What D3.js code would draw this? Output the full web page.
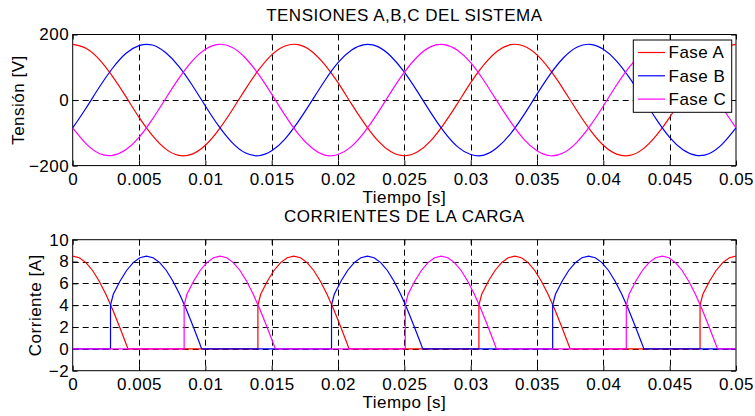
<!DOCTYPE html>
<html>
<head>
<meta charset="utf-8">
<script src="https://cdn.jsdelivr.net/npm/d3@7"></script>
<style>
body{margin:0;background:#fff;}
svg{display:block;font-family:"Liberation Sans",Arial,sans-serif;letter-spacing:0.5px;}
</style>
</head>
<body>
<div id="chart"></div>
<script>
// tiempo de muestreo de las tensiones [s]
const tiempo = [0,0.001,0.002,0.003,0.004,0.005,0.006,0.007,0.008,0.009,
  0.010,0.011,0.012,0.013,0.014,0.015,0.016,0.017,0.018,0.019,
  0.020,0.021,0.022,0.023,0.024,0.025,0.026,0.027,0.028,0.029,
  0.030,0.031,0.032,0.033,0.034,0.035,0.036,0.037,0.038,0.039,
  0.040,0.041,0.042,0.043,0.044,0.045,0.046,0.047,0.048,0.049,0.050];

// tensiones [V]
const tensionA = [170,158,124,72,11,-53,-108,-149,-169,-165,-138,-91,-32,32,91,138,165,169,149,108,53,-11,-72,-124,-158,
  -170,-158,-124,-72,-11,53,108,149,169,165,138,91,32,-32,-91,-138,-165,-169,-149,-108,-53,11,72,124,158,170];
const tensionB = [-85,-25,39,97,142,166,168,145,103,46,-18,-79,-129,-161,-170,-155,-119,-66,-4,59,114,152,169,163,133,
  85,25,-39,-97,-142,-166,-168,-145,-103,-46,18,79,129,161,170,155,119,66,4,-59,-114,-152,-169,-163,-133,-85];
const tensionC = [-85,-133,-163,-169,-152,-114,-59,4,66,119,155,170,161,129,79,18,-46,-103,-145,-168,-166,-142,-97,-39,25,
  85,133,163,169,152,114,59,-4,-66,-119,-155,-170,-161,-129,-79,-18,46,103,145,168,166,142,97,39,-25,-85];

// corrientes de la carga [t, A]
const corrienteA = [[0,8.5],[0.0005,8.35],[0.001,7.9],[0.0015,7.18],[0.002,6.2],[0.0025,5.0],[0.003,3.62],[0.0035,2.11],[0.004,0.53],[0.00417,0],
  [0.01396,0],[0.01396,4.0],[0.01417,5.0],[0.01467,6.2],[0.01517,7.18],[0.01567,7.9],[0.01617,8.35],[0.01667,8.5],[0.01717,8.35],[0.01767,7.9],
  [0.01817,7.18],[0.01867,6.2],[0.01917,5.0],[0.01967,3.62],[0.02017,2.11],[0.02067,0.53],[0.02083,0],
  [0.03062,0],[0.03062,4.0],[0.03083,5.0],[0.03133,6.2],[0.03183,7.18],[0.03233,7.9],[0.03283,8.35],[0.03333,8.5],[0.03383,8.35],[0.03433,7.9],
  [0.03483,7.18],[0.03533,6.2],[0.03583,5.0],[0.03633,3.62],[0.03683,2.11],[0.03733,0.53],[0.0375,0],
  [0.04729,0],[0.04729,4.0],[0.0475,5.0],[0.048,6.2],[0.0485,7.18],[0.049,7.9],[0.0495,8.35],[0.05,8.5]];
const corrienteB = [[0,0],[0.00285,0],[0.00285,4.0],[0.00306,5.0],[0.00356,6.2],[0.00406,7.18],[0.00456,7.9],[0.00506,8.35],[0.00556,8.5],[0.00606,8.35],
  [0.00656,7.9],[0.00706,7.18],[0.00756,6.2],[0.00806,5.0],[0.00856,3.62],[0.00906,2.11],[0.00956,0.53],[0.00972,0],
  [0.01951,0],[0.01951,4.0],[0.01972,5.0],[0.02022,6.2],[0.02072,7.18],[0.02122,7.9],[0.02172,8.35],[0.02222,8.5],[0.02272,8.35],[0.02322,7.9],
  [0.02372,7.18],[0.02422,6.2],[0.02472,5.0],[0.02522,3.62],[0.02572,2.11],[0.02622,0.53],[0.02639,0],
  [0.03618,0],[0.03618,4.0],[0.03639,5.0],[0.03689,6.2],[0.03739,7.18],[0.03789,7.9],[0.03839,8.35],[0.03889,8.5],[0.03939,8.35],[0.03989,7.9],
  [0.04039,7.18],[0.04089,6.2],[0.04139,5.0],[0.04189,3.62],[0.04239,2.11],[0.04289,0.53],[0.04306,0],[0.05,0]];
const corrienteC = [[0,0],[0.0084,0],[0.0084,4.0],[0.00861,5.0],[0.00911,6.2],[0.00961,7.18],[0.01011,7.9],[0.01061,8.35],[0.01111,8.5],[0.01161,8.35],
  [0.01211,7.9],[0.01261,7.18],[0.01311,6.2],[0.01361,5.0],[0.01411,3.62],[0.01461,2.11],[0.01511,0.53],[0.01528,0],
  [0.02507,0],[0.02507,4.0],[0.02528,5.0],[0.02578,6.2],[0.02628,7.18],[0.02678,7.9],[0.02728,8.35],[0.02778,8.5],[0.02828,8.35],[0.02878,7.9],
  [0.02928,7.18],[0.02978,6.2],[0.03028,5.0],[0.03078,3.62],[0.03128,2.11],[0.03178,0.53],[0.03194,0],
  [0.04173,0],[0.04173,4.0],[0.04194,5.0],[0.04244,6.2],[0.04294,7.18],[0.04344,7.9],[0.04394,8.35],[0.04444,8.5],[0.04494,8.35],[0.04544,7.9],
  [0.04594,7.18],[0.04644,6.2],[0.04694,5.0],[0.04744,3.62],[0.04794,2.11],[0.04844,0.53],[0.04861,0],[0.05,0]];

const fases = ["Fase A","Fase B","Fase C"];
const colores = ["#ff0000","#0000ff","#ff00ff"];
const xTicks = [0,0.005,0.01,0.015,0.02,0.025,0.03,0.035,0.04,0.045,0.05];
const xTickLabels = ["0","0.005","0.01","0.015","0.02","0.025","0.03","0.035","0.04","0.045","0.05"];
const vTicks = [-200,0,200];
const iTicks = [-2,0,2,4,6,8,10];

var width = 755, height = 416;
var left = 72.7, right = 736;
var fontSize = 17;

const svg = d3.select("#chart").append("svg")
	.attr("width", width)
	.attr("height", height);

const x = d3.scaleLinear().domain([0, 0.05]).range([left, right]);

function drawPanel(top, bottom, yDomain, yTicks, titulo, yLabel, yLabelX, titleY){
	const y = d3.scaleLinear().domain(yDomain).range([bottom, top]);
	const g = svg.append("g");

	// grid
	g.append("g").selectAll("line")
	.data(xTicks.slice(1, -1))
	.enter().append("line")
	.attr("x1", d => Math.round(x(d)) + 0.5).attr("x2", d => Math.round(x(d)) + 0.5)
	.attr("y1", top).attr("y2", bottom)
	.attr("stroke", "#000").attr("stroke-width", 1)
	.attr("stroke-dasharray", "6,4");
	g.append("g").selectAll("line")
	.data(yTicks.slice(1, -1))
	.enter().append("line")
	.attr("y1", d => Math.round(y(d)) + 0.5).attr("y2", d => Math.round(y(d)) + 0.5)
	.attr("x1", left).attr("x2", right)
	.attr("stroke", "#000").attr("stroke-width", 1)
	.attr("stroke-dasharray", "6,4");

	// ejes
	g.append("g")
	.attr("transform", "translate(0," + bottom + ")")
	.call(d3.axisBottom(x).tickValues(xTicks).tickFormat((d, i) => xTickLabels[i]).tickSize(-5).tickPadding(7.5));
	g.append("g")
	.attr("transform", "translate(" + left + ",0)")
	.call(d3.axisLeft(y).tickValues(yTicks).tickSize(-5).tickPadding(3.5));
	g.append("g")
	.attr("transform", "translate(0," + top + ")")
	.call(d3.axisTop(x).tickValues(xTicks).tickFormat("").tickSize(-5));
	g.append("g")
	.attr("transform", "translate(" + right + ",0)")
	.call(d3.axisRight(y).tickValues(yTicks).tickFormat("").tickSize(-5));
	g.selectAll(".domain").remove();
	g.selectAll(".tick line").attr("stroke", "#000");
	g.selectAll(".tick text").attr("font-size", fontSize).attr("font-family", null).attr("fill", "#000");

	g.append("rect")
	.attr("x", left).attr("y", top)
	.attr("width", right - left).attr("height", bottom - top)
	.attr("fill", "none").attr("stroke", "#000").attr("stroke-width", 1);

	// textos
	g.append("text")
	.attr("x", (left + right) / 2).attr("y", titleY)
	.attr("text-anchor", "middle").attr("font-size", fontSize)
	.text(titulo);
	g.append("text")
	.attr("x", (left + right) / 2).attr("y", bottom + 37.5)
	.attr("text-anchor", "middle").attr("font-size", fontSize)
	.text("Tiempo [s]");
	g.append("text")
	.attr("transform", "translate(" + yLabelX + "," + ((top + bottom) / 2) + ") rotate(-90)")
	.attr("text-anchor", "middle").attr("font-size", fontSize)
	.text(yLabel);

	return {g: g, y: y};
}

// TENSIONES
const p1 = drawPanel(34.5, 165.6, [-200, 200], vTicks, "TENSIONES A,B,C DEL SISTEMA", "Tensión [V]", 24, 20.7);
const lineV = d3.line()
	.x((d, i) => x(tiempo[i]))
	.y(d => p1.y(d))
	.curve(d3.curveNatural);
[tensionA, tensionB, tensionC].forEach(function(serie, k){
	p1.g.append("path")
	.attr("d", lineV(serie))
	.attr("fill", "none")
	.attr("stroke", colores[k])
	.attr("stroke-width", 1.2);
});

// leyenda
const leg = p1.g.append("g");
leg.append("rect")
	.attr("x", 633.3).attr("y", 40)
	.attr("width", 98.4).attr("height", 72.3)
	.attr("fill", "#fff").attr("stroke", "#000").attr("stroke-width", 1);
fases.forEach(function(f, k){
	var yy = 52.5 + k * 23.3;
	leg.append("line")
	.attr("x1", 638).attr("x2", 665)
	.attr("y1", yy).attr("y2", yy)
	.attr("stroke", colores[k]).attr("stroke-width", 1.2);
	leg.append("text")
	.attr("x", 668.5).attr("y", yy)
	.attr("dy", "0.35em")
	.attr("font-size", fontSize)
	.text(f);
});

// CORRIENTES
const p2 = drawPanel(239.7, 370.7, [-2, 10], iTicks, "CORRIENTES DE LA CARGA", "Corriente [A]", 41, 221.7);
const lineI = d3.line()
	.x(d => x(d[0]))
	.y(d => p2.y(d[1]));
[corrienteA, corrienteB, corrienteC].forEach(function(serie, k){
	p2.g.append("path")
	.attr("d", lineI(serie))
	.attr("fill", "none")
	.attr("stroke", colores[k])
	.attr("stroke-width", 1.2);
});
</script>
</body>
</html>
